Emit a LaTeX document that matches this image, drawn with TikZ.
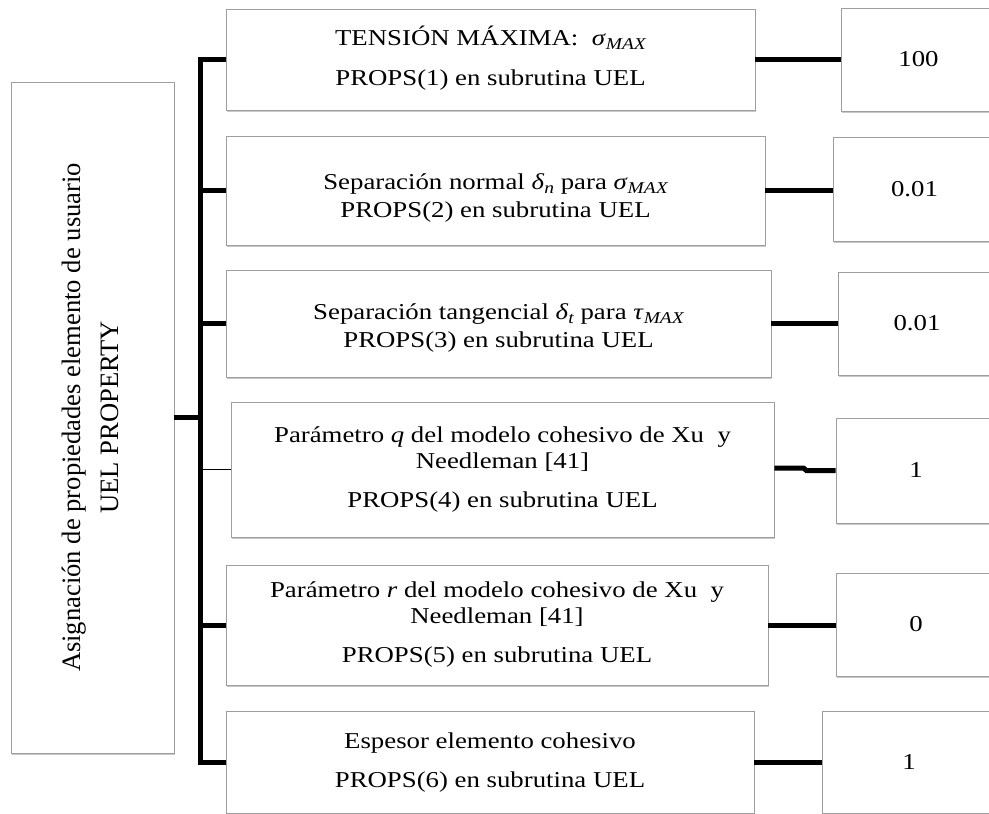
\documentclass[tikz,border=0pt]{standalone}
\usepackage{fontspec}
% body text: Times-metric serif, set slightly wide
\setmainfont{Liberation Serif}[FakeStretch=1.18]
\newfontfamily\uprightserif{Liberation Serif}
\usetikzlibrary{shadows,fit,calc}
% italic symbol with italic subscript
\newcommand{\gsub}[2]{\textit{#1}\raisebox{-0.2em}{\fontsize{16.5}{16}\selectfont\itshape #2}}

\begin{document}
\begin{tikzpicture}[x=1pt,y=-1pt,
  box/.style={draw=black!38, line width=0.9pt, fill=white, rectangle, inner sep=0pt,
    drop shadow={shadow xshift=1.2pt, shadow yshift=-2.4pt, opacity=0.3, fill=black!70}},
  valbox/.style={box, minimum width=#1, minimum height=103pt, align=center,
    font=\fontsize{22.7}{26}\selectfont},
  txt/.style={align=center, inner sep=0pt, font=\fontsize{22.7}{26}\selectfont},
  vtxt/.style={inner sep=0pt, rotate=90, font=\fontsize{26.6}{28}\uprightserif},
  link/.style={line width=5pt, black},
  thinlink/.style={line width=1pt, black}]

\useasboundingbox (0,0) rectangle (989,814);
\clip (0,0) rectangle (989,814);
\fill[white] (0,0) rectangle (989,814);

% main title box (vertical text)
\node[box, fit={(11,82) (174,753)}] (lb) {};
\node[vtxt] (lt1) at (74,417.5) {Asignación de propiedades elemento de usuario};
\node[vtxt] (lt2) at (110,417.5) {UEL PROPERTY};

% property boxes
\node[box, fit={(226,9) (755,110)}] (b1) {};
\node[box, fit={(226,136) (765,245)}] (b2) {};
\node[box, fit={(226,270) (771,377)}] (b3) {};
\node[box, fit={(231,402) (774,537)}] (b4) {};
\node[box, fit={(226,565) (768,685)}] (b5) {};
\node[box, fit={(226,711) (754,813)}] (b6) {};

\node[txt] (t1) at (490.5,58) {TENSIÓN MÁXIMA:\ \ \gsub{σ}{MAX}\\[14pt] PROPS(1) en subrutina UEL};
\node[txt] (t2) at (495.5,197.5) {Separación normal \gsub{δ}{n} para \gsub{σ}{MAX}\\[2pt] PROPS(2) en subrutina UEL};
\node[txt] (t3) at (498.5,327.5) {Separación tangencial \gsub{δ}{t} para \gsub{τ}{MAX}\\[2pt] PROPS(3) en subrutina UEL};
\node[txt] (t4) at (502.5,469.5) {Parámetro \textit{q} del modelo cohesivo de Xu\ \ y\\ Needleman [41]\\[13pt] PROPS(4) en subrutina UEL};
\node[txt] (t5) at (497,624.5) {Parámetro \textit{r} del modelo cohesivo de Xu\ \ y\\ Needleman [41]\\[13pt] PROPS(5) en subrutina UEL};
\node[txt] (t6) at (490,762.5) {Espesor elemento cohesivo\\[13pt] PROPS(6) en subrutina UEL};

% value boxes (running off the right edge)
\node[valbox=155pt] (r1) at (918.5,59.5) {100};
\node[valbox=163pt, minimum height=104pt] (r2) at (914.5,189) {0.01};
\node[valbox=158pt] (r3) at (917,323.5) {0.01};
\node[valbox=160pt, minimum height=105pt] (r4) at (916,470.5) {1};
\node[valbox=160pt] (r5) at (916,624.5) {0};
\node[valbox=174pt, minimum height=102pt] (r6) at (909,762) {1};

% vertical bus and branches
\coordinate (bus) at (200.5,0);
\draw[link] (b1.west) -| (bus |- b6.west) -- (b6.west);
\draw[link] (lb.east) -- (lb.east -| bus);
\draw[link] (b2.west) -- (b2.west -| bus);
\draw[link] (b3.west) -- (b3.west -| bus);
\draw[thinlink] (b4.west) -- (b4.west -| bus);
\draw[link] (b5.west) -- (b5.west -| bus);

% property-to-value links
\draw[link] (b1.east) -- (b1.east -| r1.west);
\draw[link] (b2.east) -- (b2.east -| r2.west);
\draw[link] (b3.east) -- (b3.east -| r3.west);
\draw[link] (b4.east) ++(0,-1.5) -- ++(29,0) -- ++(3,2.5) -- (r4.west);
\draw[link] (b5.east) -- (b5.east -| r5.west);
\draw[link] (b6.east) -- (b6.east -| r6.west);
\end{tikzpicture}
\end{document}
